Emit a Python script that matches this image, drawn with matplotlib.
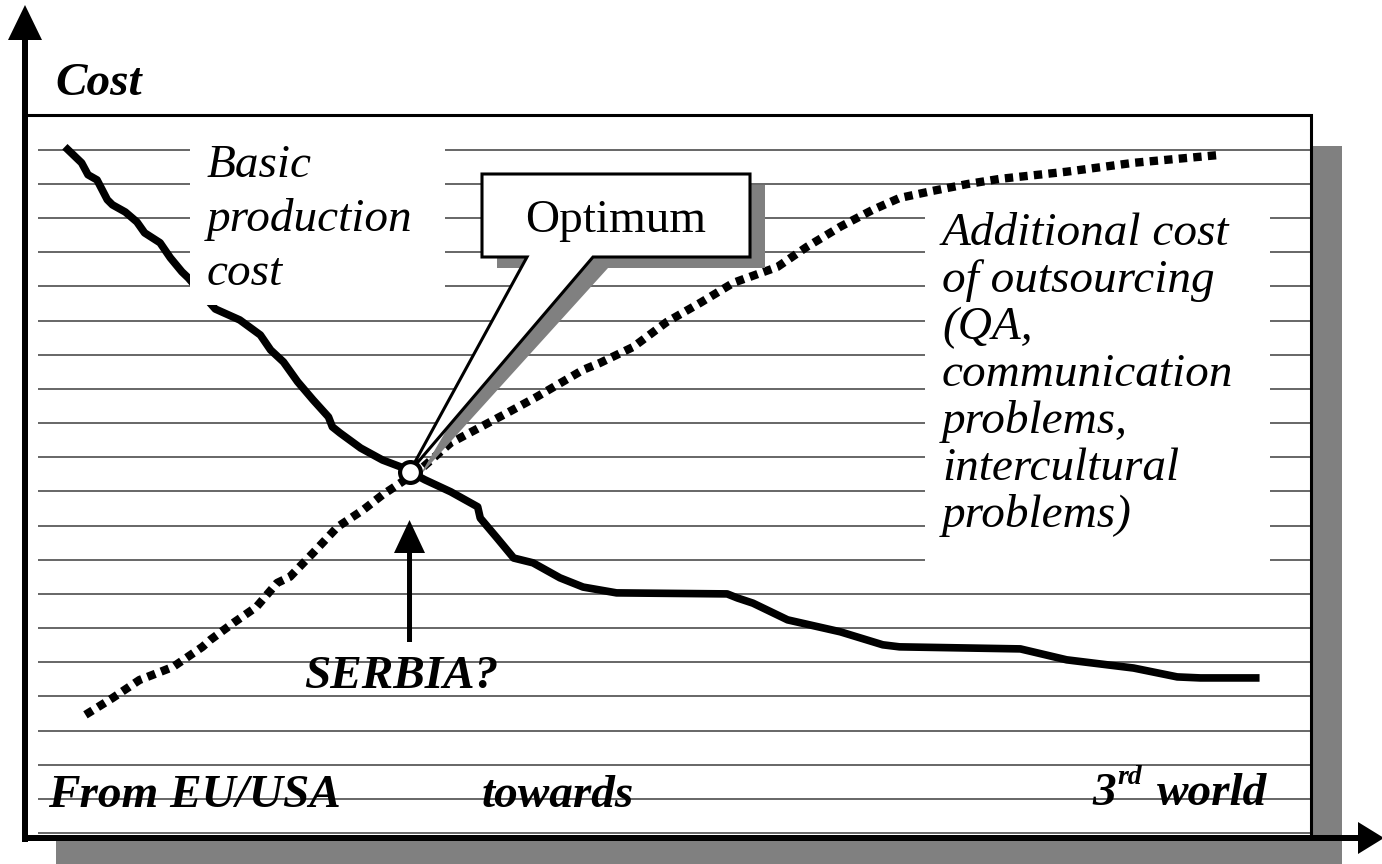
import numpy as np
import matplotlib.pyplot as plt
from matplotlib import patches
from matplotlib.transforms import Affine2D

plt.rcParams['font.family'] = ['Liberation Serif', 'DejaVu Serif']

# x: position on the scale "From EU/USA" (0) -> "3rd world" (100)
# cost: in units of the background ruling (0 = lowest line)
x_basic = [3.1, 4.4, 4.9, 5.6, 6.4, 6.8, 7.8, 8.7, 9.3, 10.5, 11.3, 12.2, 12.7,
           13.5, 14.8, 16.7, 18.3, 19.1, 20.1, 21.2, 22.4, 23.6, 23.9, 24.5,
           26.1, 27.8, 29.2, 31.1, 33.1, 35.2, 35.4, 36.7, 38.0, 39.5, 41.6,
           43.4, 46.0, 54.6, 55.4, 56.6, 59.3, 63.4, 66.7, 68.0, 77.4, 81.0,
           86.2, 89.6, 91.4, 96.0]
cost_basic = [20.09, 19.62, 19.27, 19.12, 18.54, 18.39, 18.18, 17.89, 17.57,
              17.28, 16.84, 16.43, 16.25, 15.90, 15.34, 15.02, 14.58, 14.14,
              13.79, 13.21, 12.68, 12.18, 11.89, 11.71, 11.27, 10.92, 10.72,
              10.34, 9.99, 9.55, 9.22, 8.64, 8.05, 7.91, 7.47, 7.20, 7.03,
              7.00, 6.88, 6.73, 6.24, 5.89, 5.51, 5.45, 5.39, 5.07, 4.83, 4.57,
              4.54, 4.54]

x_extra = [4.7, 6.8, 8.9, 11.5, 13.8, 14.4, 16.2, 18.0, 19.6, 20.6, 22.4, 24.3,
           26.3, 27.8, 29.2, 30.7, 33.1, 37.5, 39.8, 43.4, 44.7, 47.3, 49.9,
           52.5, 55.1, 58.5, 60.8, 63.4, 65.9, 68.0, 70.6, 73.3, 75.8, 81.0,
           86.2, 92.9]
cost_extra = [3.46, 3.95, 4.48, 4.86, 5.45, 5.65, 6.15, 6.62, 7.32, 7.50, 8.20,
              8.96, 9.46, 9.90, 10.25, 10.63, 11.42, 12.30, 12.77, 13.56, 13.76,
              14.23, 14.96, 15.52, 16.11, 16.57, 17.16, 17.75, 18.24, 18.59,
              18.80, 19.00, 19.15, 19.36, 19.62, 19.85]

optimum = (29.9, 10.57)
ruling = np.arange(21)

W, H = 1382, 864
fig = plt.figure(figsize=(W / 100, H / 100), dpi=100)
# pixel coordinates (origin top-left) for the decorations
px = Affine2D().scale(1 / W, -1 / H).translate(0, 1) + fig.transFigure

ax = fig.add_axes([25 / W, (H - 838) / H, 1286 / W, 723 / H])
ax.set_xlim(0, 100)
ax.set_ylim(-0.146, 21.02)
ax.axis('off')


def deco(p):
    p.set_transform(px)
    p.set_clip_on(False)
    ax.add_patch(p)


# box with drop shadow
deco(patches.Rectangle((56, 146), 1286, 723, fc='#808080', ec='none', zorder=0.5))
deco(patches.Rectangle((25, 115), 1286, 723, fc='white', ec='none', zorder=0.6))
deco(patches.Rectangle((25, 115), 1286, 723, fill=False, ec='black', lw=2.2, zorder=9))

ax.hlines(ruling, 1.0, 99.9, colors='#666666', lw=1.4, zorder=1)

ax.plot(x_basic, cost_basic, color='black', lw=5.5, solid_joinstyle='round',
        solid_capstyle='butt', zorder=3)
ax.plot(x_extra, cost_extra, color='black', lw=6, linestyle=(0, (1.0, 0.75)),
        dash_capstyle='butt', zorder=3)

# white backgrounds behind the curve labels
deco(patches.Rectangle((190, 135), 255, 170, fc='white', ec='none', zorder=4))
deco(patches.Rectangle((925, 200), 345, 375, fc='white', ec='none', zorder=4))

# Optimum callout
tip = px.inverted().transform(ax.transData.transform(optimum))
callout = [(482, 174), (750, 174), (750, 257), (593, 257), tuple(tip),
           (527, 257), (482, 257)]
shadow = [(497, 185), (765, 185), (765, 268), (608, 268),
          (tip[0] + 10, tip[1] + 4), (542, 268), (497, 268)]
deco(patches.Polygon(shadow, closed=True, fc='#808080', ec='none', zorder=5))
deco(patches.Polygon(callout, closed=True, fc='white', ec='black', lw=2.2,
                     joinstyle='miter', zorder=6))
ax.plot(*optimum, marker='o', ms=15, mfc='white', mec='black', mew=3,
        zorder=7, clip_on=False)

# SERBIA arrow
deco(patches.FancyArrow(tip[0], 642, 0, -122, width=5, head_width=31,
                        head_length=33, length_includes_head=True,
                        fc='black', ec='none', zorder=8))

# axes arrows
deco(patches.FancyArrow(25, 842, 0, -837, width=6, head_width=34, head_length=35,
                        length_includes_head=True, fc='black', ec='none', zorder=10))
deco(patches.FancyArrow(22, 838, 1362, 0, width=6, head_width=32, head_length=26,
                        length_includes_head=True, fc='black', ec='none', zorder=10))

bi = dict(transform=px, fontsize=34, fontweight='bold', fontstyle='italic',
          va='baseline', zorder=11)
it = dict(transform=px, fontsize=34, fontstyle='italic', va='baseline', zorder=11)

ax.text(55, 95, 'Cost', **bi)
for i, line in enumerate(['Basic', 'production', 'cost']):
    ax.text(207, 177 + 54 * i, line, **it)
extra_lines = ['Additional cost', 'of outsourcing', '(QA,', 'communication',
               'problems,', 'intercultural', 'problems)']
for i, line in enumerate(extra_lines):
    ax.text(942, 245 + 47 * i, line, **it)
ax.text(616, 232, 'Optimum', transform=px, fontsize=34, ha='center',
        va='baseline', zorder=11)
ax.text(tip[0] - 8, 688, 'SERBIA?', ha='center', **bi)
ax.text(48, 807, 'From EU/USA', **bi)
ax.text(482, 807, 'towards', **bi)
ax.text(1092, 805, '3', **bi)
ax.text(1117, 784, 'rd', **{**bi, 'fontsize': 20})
ax.text(1157, 805, 'world', **bi)

fig.savefig('out.png', dpi=100)
